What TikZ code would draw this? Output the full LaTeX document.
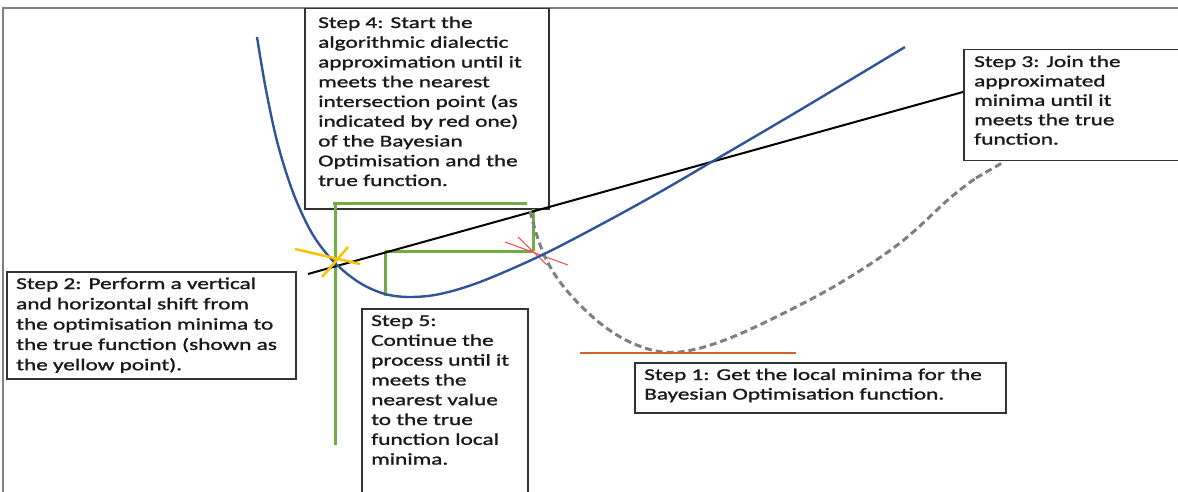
\documentclass[tikz,border=0pt]{standalone}
\usepackage{fontspec}
\setmainfont{Carlito}[FakeStretch=1.41, FakeBold=1.3]
\definecolor{truecol}{RGB}{47,85,151}
\definecolor{greencol}{RGB}{112,173,71}
\definecolor{bocol}{RGB}{127,127,127}
\definecolor{mincol}{RGB}{208,100,40}
\definecolor{yelcol}{RGB}{255,192,0}
\definecolor{redcol}{RGB}{255,70,70}
\definecolor{framecol}{RGB}{128,128,128}
\definecolor{boxcol}{RGB}{50,50,50}
\newcommand{\steplines}[2]{{\fontsize{16.5}{#1}\selectfont\begin{tabular}[t]{@{}l@{}}#2\end{tabular}}}
\tikzset{
  stepbox/.style={draw=boxcol, line width=1.5pt, fill=white, anchor=north west, inner sep=0pt},
  steptext/.style={anchor=base west, inner sep=0pt, text=black!90},
  greenline/.style={draw=greencol, line width=3pt},
  truefn/.style={draw=truecol, line width=2.4pt},
  bofn/.style={draw=bocol, line width=3pt, dash pattern=on 7pt off 4pt},
  joinline/.style={draw=black, line width=2pt},
}
\begin{document}
\begin{tikzpicture}[x=1pt,y=-1pt]
\useasboundingbox (0,0) rectangle (1178,492);
% outer frame
\draw[framecol, line width=1.5pt] (3,492) -- (3,8) -- (1180,8);

% boxes
\node[stepbox, minimum width=244pt, minimum height=200pt] (b4) at (304,8) {};
\node[stepbox, minimum width=260pt, minimum height=111pt] (b3) at (963,49) {};
\node[stepbox, minimum width=289pt, minimum height=107pt] (b2) at (6,271) {};
\node[stepbox, minimum width=166pt, minimum height=200pt] (b5) at (361,308) {};
\node[stepbox, minimum width=371pt, minimum height=50pt] (b1) at (634,362) {};

% texts
\node[steptext] (t4) at (318,28) {\steplines{19.75}{Step 4: Start the\\algorithmic dialectic\\approximation until it\\meets the nearest\\intersection point (as\\indicated by red one)\\of the Bayesian\\Optimisation and the\\true function.}};
\node[steptext] (t3) at (974,67) {\steplines{19.4}{Step 3: Join the\\approximated\\minima until it\\meets the true\\function.}};
\node[steptext] (t2) at (16,289) {\steplines{20.3}{Step 2: Perform a vertical\\and horizontal shift from\\the optimisation minima to\\the true function (shown as\\the yellow point).}};
\node[steptext] (t5) at (371,326) {\steplines{19.8}{Step 5:\\Continue the\\process until it\\meets the\\nearest value\\to the true\\function local\\minima.}};
\node[steptext] (t1) at (644,380) {\steplines{19.5}{Step 1: Get the local minima for the\\Bayesian Optimisation function.}};

% key points
\coordinate (yp) at (335,263);
\coordinate (rp) at (540,256);
\coordinate (js) at (308,274);
\coordinate (je) at (963,92);

% green construction lines
\draw[greenline] (335,203) -- (335,445);
\draw[greenline] (333,203) -- (527,203);
\draw[greenline] (533,209) -- (533,251);
\draw[greenline] (385,251) -- (533,251);
\draw[greenline] (385,251) -- (385,296);

% joining line
\draw[joinline] (js) -- (je);

% red intersection
\draw[redcol, line width=1pt] (505,242) -- (568,265);
\draw[redcol, line width=1pt] (518,237) -- (547,265);

% Bayesian optimisation (dashed)
\draw[bofn] plot[smooth, tension=0.6] coordinates {(530,211) (537,236) (546,259) (560,282) (580,305) (605,327) (632,343) (662,352) (692,350) (730,338) (780,315) (840,283) (900,243) (950,198) (976,178)};
\draw[bofn] (976,178) -- (1002,163);

% true function
\draw[truefn] plot[smooth, tension=0.55] coordinates {(257,37) (266,90) (278,145) (294,195) (313,235) (335,263) (360,283) (385,294) (410,297) (440,294) (480,282) (540,256) (600,225) (660,192) (720,157) (800,110) (905,47)};

% yellow point
\draw[yelcol, line width=2.5pt] (295,249) -- (360,264);
\draw[yelcol, line width=2.5pt] (348,247) -- (322,277);

% local minimum of BO
\draw[mincol, line width=2.5pt] (580,353) -- (796,353);
\end{tikzpicture}
\end{document}
